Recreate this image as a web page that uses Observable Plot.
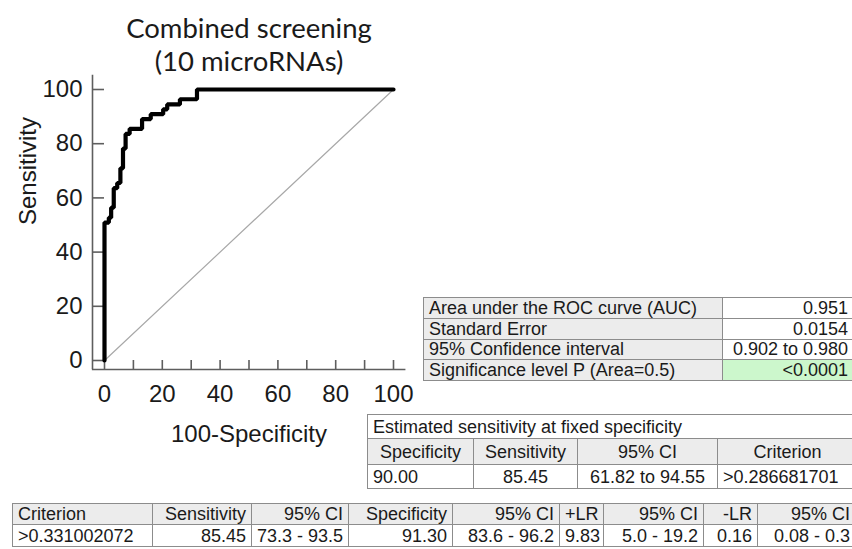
<!DOCTYPE html>
<html>
<head>
<meta charset="utf-8">
<script src="https://cdn.jsdelivr.net/npm/d3@7"></script>
<script src="https://cdn.jsdelivr.net/npm/@observablehq/plot@0.6"></script>
<style>
  body { margin: 0; background: #fff; }
  #wrap { position: relative; width: 852px; height: 549px; overflow: hidden; font-family: "Liberation Sans", Arial, sans-serif; }
  #wrap svg { position: absolute; left: 0; top: 0; }
  table { position: absolute; border-collapse: collapse; table-layout: fixed; font-size: 18px; color: #1a1a1a; }
  td { border: 1px solid #8c8c8c; padding: 0 5px; white-space: nowrap; overflow: hidden; line-height: 1; }
  .g { background: #ececec; }
  .w { background: #fff; }
  .ok { background: #ccf7cc; }
  .r { text-align: right; }
  .c { text-align: center; }
  .l { text-align: left; }
</style>
</head>
<body>
<div id="wrap"></div>
<script>
// ---- Data ----
const title = "Combined screening\n(10 microRNAs)";
const xLabel = "100-Specificity";
const yLabel = "Sensitivity";
// ROC curve corners (100-Specificity, Sensitivity)
const rocX = [0, 0, 1.5, 2.3, 3.2, 4.4, 5.5, 6.4, 7.3, 8.7, 13.0, 16.0, 20.3, 21.7, 26.1, 32.0, 100];
const rocY = [0, 50.9, 52.7, 56.4, 63.6, 65.5, 70.9, 78.2, 83.6, 85.5, 89.1, 90.9, 92.7, 94.5, 96.4, 100, 100];
// reference (chance) diagonal
const chanceX = [0, 100];
const chanceY = [0, 100];
// axis ticks
const xTicks = [0, 10, 20, 30, 40, 50, 60, 70, 80, 90, 100];
const xTickLabels = [0, 20, 40, 60, 80, 100];
const yTicks = [0, 20, 40, 60, 80, 100];

// tables
const aucLabels = ["Area under the ROC curve (AUC)", "Standard Error", "95% Confidence interval", "Significance level P (Area=0.5)"];
const aucValues = ["0.951", "0.0154", "0.902 to 0.980", "<0.0001"];
const fixedTitle = "Estimated sensitivity at fixed specificity";
const fixedHeaders = ["Specificity", "Sensitivity", "95% CI", "Criterion"];
const fixedValues = ["90.00", "85.45", "61.82 to 94.55", ">0.286681701"];
const critHeaders = ["Criterion", "Sensitivity", "95% CI", "Specificity", "95% CI", "+LR", "95% CI", "-LR", "95% CI"];
const critValues = [">0.331002072", "85.45", "73.3 - 93.5", "91.30", "83.6 - 96.2", "9.83", "5.0 - 19.2", "0.16", "0.08 - 0.3"];

// ---- Chart ----
const roc = rocX.map((x, i) => ({x, y: rocY[i]}));
const chance = chanceX.map((x, i) => ({x, y: chanceY[i]}));
const axisColor = "#5e5e5e";

const chart = Plot.plot({
  width: 852,
  height: 549,
  marginLeft: 104,
  marginRight: 459,
  marginTop: 89,
  marginBottom: 189,
  x: {domain: [0, 100]},
  y: {domain: [0, 100]},
  style: {fontFamily: "'Liberation Sans', Arial, sans-serif", color: "#1a1a1a", background: "transparent", overflow: "visible"},
  marks: [
    // axis lines (offset from the frame)
    Plot.ruleX([0], {y1: -3.3, y2: 105.3, dx: -12, stroke: axisColor, strokeWidth: 1.6}),
    Plot.ruleY([0], {x1: -4.2, x2: 104.3, dy: 9, stroke: axisColor, strokeWidth: 1.6}),
    Plot.axisY(yTicks, {tickSize: 12, tickPadding: 10, fontSize: 24, stroke: axisColor, strokeWidth: 1.6, label: null}),
    Plot.axisX(xTicks, {tickSize: 9, tickPadding: 15, fontSize: 24, stroke: axisColor, strokeWidth: 1.6, label: null,
      tickFormat: d => xTickLabels.includes(d) ? String(d) : ""}),
    Plot.line(chance, {x: "x", y: "y", stroke: "#a8a8a8", strokeWidth: 1.2}),
    Plot.line(roc, {x: "x", y: "y", curve: "step-after", stroke: "#000", strokeWidth: 4.2, strokeLinejoin: "miter"}),
    Plot.text([xLabel], {frameAnchor: "bottom", dy: 74, lineAnchor: "middle", fontSize: 24}),
    Plot.text([yLabel], {frameAnchor: "left", dx: -76, rotate: -90, lineAnchor: "middle", fontSize: 24}),
    Plot.text([title], {frameAnchor: "top", dy: -75, lineAnchor: "top", fontSize: 27.5, lineHeight: 1.2, fontFamily: "Lato, 'Open Sans', sans-serif"})
  ]
});
const wrap = document.getElementById("wrap");
wrap.appendChild(chart);

// ---- Tables ----
function makeTable(left, top, widths, rows) {
  const t = document.createElement("table");
  t.style.left = left + "px";
  t.style.top = top + "px";
  t.style.width = widths.reduce((a, b) => a + b, 0) + "px";
  const cg = document.createElement("colgroup");
  widths.forEach(w => { const c = document.createElement("col"); c.style.width = w + "px"; cg.appendChild(c); });
  t.appendChild(cg);
  rows.forEach(r => {
    const tr = document.createElement("tr");
    tr.style.height = r.h + "px";
    r.cells.forEach(c => {
      const td = document.createElement("td");
      td.textContent = c.t;
      td.className = c.cls;
      if (c.span) td.colSpan = c.span;
      tr.appendChild(td);
    });
    t.appendChild(tr);
  });
  wrap.appendChild(t);
}

makeTable(423, 297, [299, 131], aucLabels.map((lab, i) => ({
  h: 20.8,
  cells: [{t: lab, cls: "g l"}, {t: aucValues[i], cls: (i === 3 ? "ok" : "w") + " r"}]
})));

makeTable(367, 414, [106, 104, 140, 140], [
  {h: 24, cells: [{t: fixedTitle, cls: "w l", span: 4}]},
  {h: 26, cells: fixedHeaders.map(h => ({t: h, cls: "g c"}))},
  {h: 24, cells: [
    {t: fixedValues[0], cls: "w l"}, {t: fixedValues[1], cls: "w c"},
    {t: fixedValues[2], cls: "w c"}, {t: fixedValues[3], cls: "w l"}]}
]);

makeTable(12, 503, [140, 99, 97, 104, 107, 44, 100, 54, 98], [
  {h: 21, cells: critHeaders.map((h, i) => ({t: h, cls: "g " + (i === 0 ? "l" : "r")}))},
  {h: 22, cells: critValues.map((v, i) => ({t: v, cls: "w " + (i === 0 || i === 2 ? "l" : "r")}))}
]);
</script>
</body>
</html>
